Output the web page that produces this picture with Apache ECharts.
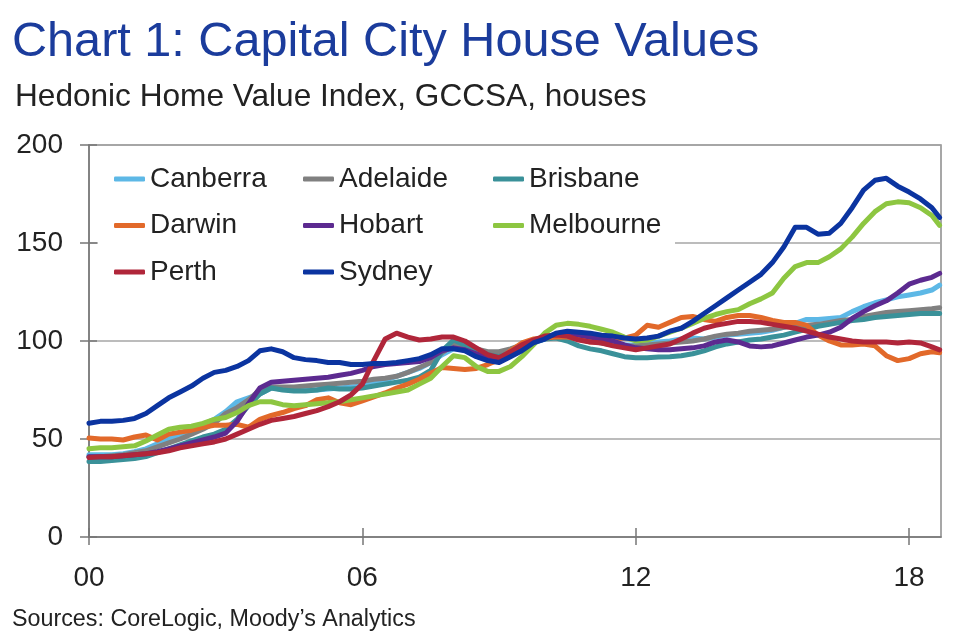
<!DOCTYPE html>
<html><head><meta charset="utf-8">
<script src="https://cdn.jsdelivr.net/npm/echarts@6/dist/echarts.min.js"></script>
<style>html,body{margin:0;padding:0;background:#fff}#c{width:959px;height:643px}</style>
</head><body><div id="c"></div>
<script>
// Years since 2000 (quarterly, last point Sep 2018)
const years = [0,0.25,0.5,0.75,1,1.25,1.5,1.75,2,2.25,2.5,2.75,3,3.25,3.5,3.75,
 4,4.25,4.5,4.75,5,5.25,5.5,5.75,6,6.25,6.5,6.75,7,7.25,7.5,7.75,
 8,8.25,8.5,8.75,9,9.25,9.5,9.75,10,10.25,10.5,10.75,11,11.25,11.5,11.75,
 12,12.25,12.5,12.75,13,13.25,13.5,13.75,14,14.25,14.5,14.75,15,15.25,15.5,15.75,
 16,16.25,16.5,16.75,17,17.25,17.5,17.75,18,18.25,18.5,18.67];
const xTickLabels = ['00','06','12','18'];
const xTickValues = [0,6,12,18];

const canberra = [42,42,42,42.5,43.5,45,47.5,50,52.5,55,57.5,60,64,69,71,73,
 76,75.5,75,75,75,75.5,76,76.5,77,78.5,80,82,84,86,89,93,
 96,96,94,92,91.5,93,96,99,101,103,103,102,101,100,99,98,
 98,98.5,99.5,100,101,101.5,101,102,103,103.5,104,104.5,105.5,107,109,111,
 111,111.5,112,115,117.5,119.5,121,122.5,123.5,124.5,126,128.5];
const adelaide = [41,41,41.5,42,43,44,46,48,50,52.5,55,58,63,66,70,75,
 76.5,76.5,76.5,77,77.5,78,78.5,79,79.5,80.5,81,82,84,86.5,89,94,
 98,98,96,94.5,94.5,96,98,100,101.5,102.5,102,101,100,99,98,97.5,
 97.5,98,98.5,99,99.5,100,101,102.5,103.5,104,105,105.5,106,107,107.5,108,
 108.5,109.5,110.5,111,112.5,113.5,114.5,115,115.5,116,116.5,117];
const brisbane = [38.5,38.5,39,39.5,40,41,43,45,47,49,51,52.5,55,60,67,73,
 76,75,74.5,74.5,75,76,75.5,75.5,76,77,78,79,80,81.5,85,95,
 100.5,98,95,93,92,94,97,99.5,101,101.5,100,97.5,96,95,93.5,92,
 91.5,91.5,91.8,92,92.5,93.5,95,97,98.5,99.5,100.5,101,102,103,104.5,106,
 107.5,108.5,109.5,110.5,111,112,112.5,113,113.5,114,114,114];
const darwin = [50.5,50,50,49.5,51,52,49.5,52.5,53.5,54.5,56,57,57,57.5,56,60,
 62,63.5,65.5,67,70,71,68.5,67.5,69.5,71.5,73.5,76,78,80.5,83.5,86.5,
 86,85.5,86,88,90.5,95,99,101,101.5,102,102,101,99.5,99.5,101,101.5,
 103,108,107,109.5,112,112.5,111,110,112,113,113,112,110.5,109.5,109.5,108,
 103,100,98,98,98.5,97.5,92.5,90,91,93.5,94.5,94];
const hobart = [41,41,41,41.5,42,42.5,43.5,45,46.5,48,49.5,51,53,59,68,76,
 79,79.5,80,80.5,81,81.5,82.5,83.5,85,87,88,88.5,89,89.5,91.5,95,
 96.5,95.5,93.5,91.5,91,93.5,97,100,102,103.5,103.5,103,102,101,100,98,
 96.5,96,95.5,95.5,96,96.5,97.5,99.5,100.5,99.5,97.5,97,97.5,99,100.5,102,
 103,104.5,107,111.5,115,118,120.5,124.5,129,131,132.5,134.5];
const melbourne = [45,45.5,45.5,46,46.5,49,52,55,56,56.5,58,60,61,63.5,67,69,
 69,67.5,67,67.5,68,68.5,69,70,71,72,73,74,75,78,81,87,
 92.5,91.5,87,84.5,84.5,87,92,98,104,108,109,108.5,107.5,106,104.5,102,
 100,100.5,102.5,104.5,106.5,109,111.5,113.5,115,116,119,121.5,124.5,132,138,140,
 140,143,147,153,160,166,170,171,170.5,168,164,159];
const perth = [40.5,41,41,41.5,42,42.5,43,44,45.5,46.5,47.5,48.5,50,52.5,55,57.5,
 59.5,60.5,61.5,63,64.5,66.5,69,72.5,78,90,101,104,102,100.5,101,102,
 102,100,96.5,93,91.5,94.5,98,100.5,102.5,103,102.5,100.5,99.5,99,97.5,96.5,
 95.5,96.5,97.5,98.5,101,104,106.5,108,109,110,110,109.5,108.5,107.5,106.5,105,
 103.5,102,101,100,99.5,99.5,99.5,99,99.5,99,97,95.5];
const sydney = [58,59,59,59.5,60.5,63,67,71,74,77,81,84,85,87,90,95,
 96,94.5,91.5,90.5,90,89,89,88,88,88.5,88.5,89,90,91,93,96,
 96,95,92,90,89,92,95,99,101,104,105,104.5,104,103,102.5,101.5,
 101,101.5,102.5,105,106.5,110,114,118,122,126,130,134,140,148,158,158,
 154.5,155,160,168,177,182,183,179,176,172.5,168,163];

const seriesDefs = [
  {name:'Canberra', data:canberra, color:'#5DB8E6'},
  {name:'Adelaide', data:adelaide, color:'#808080'},
  {name:'Brisbane', data:brisbane, color:'#3A9199'},
  {name:'Darwin', data:darwin, color:'#E2692A'},
  {name:'Hobart', data:hobart, color:'#5C2A90'},
  {name:'Melbourne', data:melbourne, color:'#8DC641'},
  {name:'Perth', data:perth, color:'#B0263A'},
  {name:'Sydney', data:sydney, color:'#0B34A0'}
];

const FONT = '"Liberation Sans", Arial, sans-serif';
const chart = echarts.init(document.getElementById('c'), null, {renderer:'canvas'});
const legendBase = {
  orient:'vertical', padding:0, itemWidth:31, itemHeight:5, itemGap:18.5, icon:'roundRect',
  textStyle:{fontSize:28, fontFamily:FONT, color:'#222', lineHeight:28}, top:165, z:10
};
chart.setOption({
  animation:false,
  grid:{left:89, right:18, top:145, bottom:106, show:true, borderColor:'#8a8a8a', borderWidth:1.5, backgroundColor:'transparent'},
  graphic:[
    {type:'rect', z:1, shape:{x:98, y:147, width:577, height:143}, style:{fill:'#fff'}},
    {type:'text', z:10, left:12, top:18, style:{text:'Chart 1: Capital City House Values', font:'48.6px '+FONT, fill:'#1B3C9C'}},
    {type:'text', z:10, left:15, top:81, style:{text:'Hedonic Home Value Index, GCCSA, houses', font:'31.6px '+FONT, fill:'#222'}},
    {type:'text', z:10, left:12, top:608, style:{text:'Sources: CoreLogic, Moody\u2019s Analytics', font:'23.3px '+FONT, fill:'#222'}}
  ],
  legend:[
    Object.assign({}, legendBase, {left:114, data:['Canberra','Darwin','Perth']}),
    Object.assign({}, legendBase, {left:303, data:['Adelaide','Hobart','Sydney']}),
    Object.assign({}, legendBase, {left:493, data:['Brisbane','Melbourne']})
  ],
  xAxis:[
    {type:'value', min:0, max:18.7, interval:6, position:'bottom',
     axisLine:{show:true, lineStyle:{color:'#777', width:1.5}},
     axisTick:{show:true, inside:false, length:8, customValues:xTickValues, lineStyle:{color:'#777', width:1.5}},
     axisLabel:{show:true, customValues:xTickValues, margin:27, fontSize:28, fontFamily:FONT, color:'#222',
       formatter:function(v){ const i = xTickValues.indexOf(Math.round(v)); return i>=0 ? xTickLabels[i] : ''; }},
     splitLine:{show:false}},
    {type:'value', min:0, max:18.7, interval:6, position:'bottom',
     axisLine:{show:false},
     axisTick:{show:true, inside:true, length:9, customValues:xTickValues, lineStyle:{color:'#777', width:1.5}},
     axisLabel:{show:false}, splitLine:{show:false}}
  ],
  yAxis:[
    {type:'value', min:0, max:200, interval:50, position:'left',
     axisLine:{show:true, lineStyle:{color:'#777', width:1.5}},
     axisTick:{show:true, inside:false, length:9, lineStyle:{color:'#777', width:1.5}},
     axisLabel:{margin:26, fontSize:28, fontFamily:FONT, color:'#222'},
     splitLine:{show:true, lineStyle:{color:'#a6a6a6', width:1.5}}},
    {type:'value', min:0, max:200, interval:50, position:'left',
     axisLine:{show:false},
     axisTick:{show:true, inside:true, length:8, lineStyle:{color:'#777', width:1.5}},
     axisLabel:{show:false}, splitLine:{show:false}}
  ],
  series: seriesDefs.map(s => ({
    name:s.name, type:'line', xAxisIndex:0, yAxisIndex:0, symbol:'none', smooth:false,
    data: years.map((t,i) => [t, s.data[i]]),
    lineStyle:{width:5, color:s.color, cap:'round', join:'round'},
    itemStyle:{color:s.color}, z:3
  }))
});
</script></body></html>
